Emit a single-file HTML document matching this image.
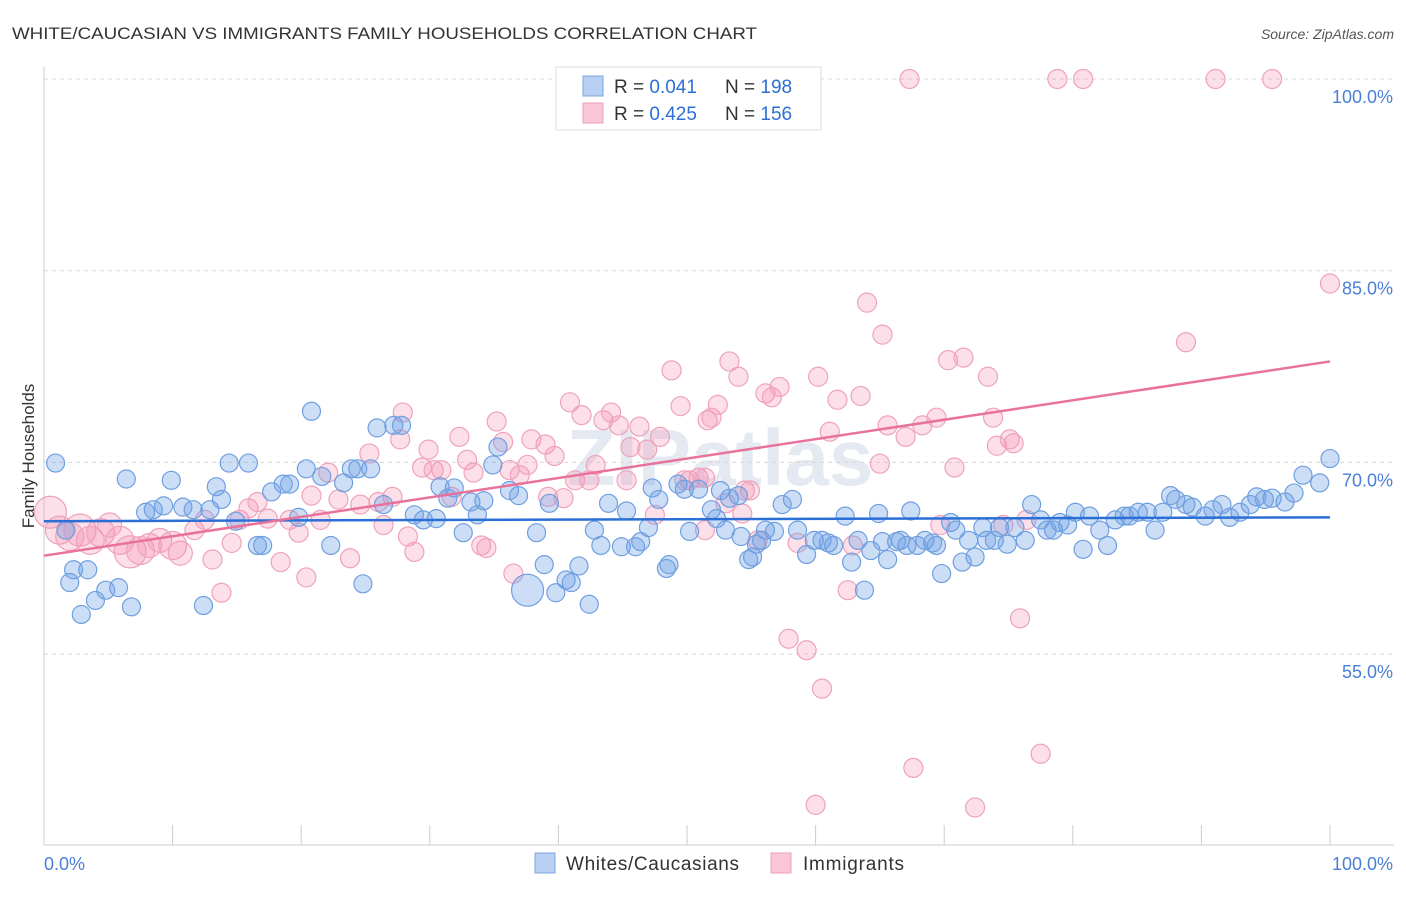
<!DOCTYPE html>
<html><head><meta charset="utf-8"><style>
body{margin:0;background:#fff;font-family:"Liberation Sans",sans-serif;}
svg text{font-family:"Liberation Sans",sans-serif;}
</style></head><body>
<svg id="chart" width="1406" height="892" viewBox="0 0 1406 892">
<text x="12" y="39" font-size="17" fill="#333" textLength="745" lengthAdjust="spacingAndGlyphs">WHITE/CAUCASIAN VS IMMIGRANTS FAMILY HOUSEHOLDS CORRELATION CHART</text>
<text x="1394" y="39" font-size="14" fill="#555" font-style="italic" text-anchor="end">Source: ZipAtlas.com</text>
<text x="720" y="485" font-size="80" fill="#e4e9f2" text-anchor="middle" font-weight="bold">ZIPatlas</text>
<g id="grid"></g>
<g id="axes"></g>
<g id="pink"></g>
<g id="blue"></g>
<g id="trends"></g>
<text transform="translate(34,456) rotate(-90)" font-size="17" fill="#333" text-anchor="middle">Family Households</text>
<g>
<rect x="556" y="67" width="265" height="63" fill="#fff" stroke="#ddd"/>
<rect x="583" y="76" width="20" height="20" fill="#b7d0f3" stroke="#7ea6e2"/>
<rect x="583" y="103" width="20" height="20" fill="#f9c6d5" stroke="#ee9fb8"/>
<text x="614" y="93" font-size="19" fill="#333">R = <tspan fill="#2b6fd6">0.041</tspan></text>
<text x="725" y="93" font-size="19" fill="#333">N = <tspan fill="#2b6fd6">198</tspan></text>
<text x="614" y="120" font-size="19" fill="#333">R = <tspan fill="#2b6fd6">0.425</tspan></text>
<text x="725" y="120" font-size="19" fill="#333">N = <tspan fill="#2b6fd6">156</tspan></text>
</g>
<g>
<rect x="535" y="853" width="20" height="20" fill="#b7d0f3" stroke="#7ea6e2"/>
<text x="566" y="870" font-size="19" fill="#333" textLength="173">Whites/Caucasians</text>
<rect x="771" y="853" width="20" height="20" fill="#f9c6d5" stroke="#ee9fb8"/>
<text x="803" y="870" font-size="19" fill="#333" textLength="101">Immigrants</text>
</g>
<text x="44" y="870" font-size="18" fill="#4a7fd8">0.0%</text>
<text x="1393" y="870" font-size="18" fill="#4a7fd8" text-anchor="end">100.0%</text>
</svg>
<script>
const yTicks=[100,85,70,55];
const yTickLabels=["100.0%","85.0%","70.0%","55.0%"];
const blueX=[0.9,1.7,2.3,2.0,3.4,4.0,2.9,4.8,5.8,6.8,6.4,7.9,8.5,9.3,9.9,10.8,11.6,12.4,12.9,13.4,13.8,14.4,14.9,15.9,16.6,17.0,17.7,18.6,19.1,19.8,20.4,20.8,21.6,22.3,23.3,23.9,24.4,24.8,25.4,25.9,26.4,27.2,27.8,28.8,29.5,30.5,30.8,31.4,31.9,32.6,33.2,33.7,34.2,34.9,35.3,36.2,36.9,37.6,38.3,38.9,39.3,39.8,40.6,41.0,41.6,42.4,42.8,43.3,43.9,44.9,45.3,46.0,46.4,47.0,47.3,47.8,48.4,48.6,49.3,49.8,50.2,50.9,51.9,52.3,52.6,53.0,53.3,54.0,54.2,54.8,55.1,55.4,55.8,56.1,56.8,57.4,58.2,58.6,59.3,59.9,60.5,61.0,61.4,62.3,62.8,63.3,63.8,64.3,64.9,65.2,65.6,66.3,66.6,67.1,67.4,67.9,68.5,69.1,69.4,69.8,70.5,70.9,71.4,71.9,72.4,73.0,73.3,73.9,74.3,74.9,75.5,76.3,76.8,77.5,78.0,78.5,79.0,79.6,80.2,80.8,81.3,82.1,82.7,83.3,84.0,84.4,85.1,85.8,86.4,87.0,87.6,88.0,88.8,89.3,90.3,90.9,91.6,92.2,93.0,93.8,94.3,94.9,95.5,96.5,97.2,97.9,99.2,100];
const blueY=[69.95,64.7,61.6,60.6,61.6,59.2,58.1,60.0,60.2,58.7,68.7,66.1,66.3,66.6,68.6,66.5,66.3,58.8,66.3,68.1,67.1,69.95,65.4,69.95,63.5,63.5,67.7,68.3,68.3,65.7,69.5,74.0,68.9,63.5,68.4,69.5,69.5,60.5,69.5,72.7,66.7,72.9,72.9,65.9,65.5,65.6,68.1,67.2,68.0,64.5,66.9,65.9,67.0,69.8,71.2,67.8,67.4,60.0,64.5,62.0,66.8,59.8,60.8,60.6,61.9,58.9,64.7,63.5,66.8,63.4,66.2,63.4,63.8,64.9,68.0,67.1,61.7,62.0,68.3,67.9,64.6,67.9,66.3,65.6,67.8,64.7,67.2,67.4,64.2,62.4,62.6,63.6,63.9,64.7,64.6,66.7,67.1,64.7,62.8,63.9,63.9,63.7,63.5,65.8,62.2,63.9,60.0,63.1,66.0,63.8,62.4,63.8,63.9,63.5,66.2,63.5,63.9,63.7,63.5,61.3,65.3,64.7,62.2,63.9,62.6,64.9,63.9,63.9,64.9,63.6,64.9,63.9,66.7,65.5,64.7,64.7,65.3,65.1,66.1,63.2,65.8,64.7,63.5,65.5,65.8,65.8,66.1,66.1,64.7,66.1,67.4,67.1,66.7,66.5,65.8,66.3,66.7,65.7,66.1,66.7,67.3,67.1,67.2,66.9,67.6,69.0,68.4,70.3];
const pinkX=[0.5,1.2,2.0,2.8,3.6,4.4,5.1,5.9,6.7,7.5,8.2,9.0,10.0,10.6,11.7,12.5,13.1,13.8,14.6,15.2,15.9,16.6,17.4,18.4,19.1,19.8,20.4,20.8,21.5,22.1,22.9,23.8,24.6,25.3,26.0,26.4,27.1,27.7,27.9,28.3,28.8,29.4,29.9,30.3,30.9,31.7,32.3,32.9,33.4,34.0,34.4,35.2,35.7,36.2,36.5,37.0,37.6,37.9,39.0,39.2,39.7,40.4,40.9,41.3,41.8,42.4,42.9,43.5,44.1,44.7,45.3,45.6,46.3,46.9,47.5,47.9,48.8,49.5,49.8,50.2,50.9,51.4,51.6,51.9,52.4,53.0,53.3,54.0,54.3,54.5,54.9,55.5,56.1,56.6,57.2,57.9,58.6,59.3,60.2,60.5,61.1,61.7,62.5,62.9,63.5,64.0,65.0,65.2,65.6,67.0,67.3,67.6,68.3,69.4,69.7,70.3,70.8,71.5,72.4,73.4,73.8,74.1,74.6,75.1,75.4,75.9,77.5,78.8,80.8,88.8,91.1,95.5,100,60.0,51.4,76.4];
const pinkY=[66.1,64.7,64.2,64.7,63.9,64.5,65.1,63.9,63.0,63.1,63.5,63.9,63.5,62.9,64.7,65.5,62.4,59.8,63.7,65.5,66.4,66.9,65.6,62.2,65.5,64.5,61.0,67.4,65.5,69.2,67.1,62.5,66.7,70.7,66.9,65.1,67.3,71.8,73.9,64.2,63.0,69.6,71.0,69.4,69.4,67.3,72.0,70.2,69.2,63.5,63.3,73.2,71.6,69.4,61.3,69.0,69.8,71.8,71.4,67.3,70.5,67.2,74.7,68.6,73.7,68.6,69.8,73.3,73.9,72.9,68.6,71.2,72.8,71.0,65.9,72.0,77.2,74.4,68.6,68.6,68.8,64.7,73.3,73.5,74.5,66.8,77.9,76.7,66.0,67.8,67.8,63.9,75.4,75.1,75.9,56.2,63.7,55.3,76.7,52.3,72.4,74.9,60.0,63.5,75.2,82.5,69.9,80.0,72.9,72.0,100,46.1,72.9,73.5,65.1,78.0,69.6,78.2,43.0,76.7,73.5,71.3,65.1,71.8,71.5,57.8,47.2,100,100,79.4,100,100,84.0,43.2,68.8,65.5];
const blueBig={57:16};
const pinkSize=[16,14,14,16,14,14,12,14,16,14,12,12,14,12];
const blueTrend=[65.4,65.7];
const pinkTrend=[62.7,77.9];

const NS="http://www.w3.org/2000/svg";
const X0=44,X1=1330,Ytop=79,PX15=191.7;
function sx(v){return X0+(X1-X0)*v/100;}
function sy(v){return Ytop+(100-v)*PX15/15;}
function mk(tag,attrs,parent){const e=document.createElementNS(NS,tag);for(const k in attrs)e.setAttribute(k,attrs[k]);parent.appendChild(e);return e;}

const grid=document.getElementById('grid');
yTicks.forEach((t,i)=>{
  const l=mk('line',{x1:X0,x2:1394,y1:sy(t),y2:sy(t),stroke:'#d8d8d8','stroke-dasharray':'4,4'},grid);
  
  
  const tx=mk('text',{x:1393,y:sy(t)+24,'font-size':18,fill:'#4a7fd8','text-anchor':'end'},grid);
  tx.textContent=yTickLabels[i];
  
  
});
const axes=document.getElementById('axes');
const ax=mk('line',{x1:X0,x2:X0,y1:67,y2:845,stroke:'#ccc'},axes);


const bx=mk('line',{x1:X0,x2:1394,y1:845,y2:845,stroke:'#ccc'},axes);


for(let i=0;i<=10;i++){
  const t=mk('line',{x1:sx(i*10),x2:sx(i*10),y1:825,y2:845,stroke:'#ccc'},axes);
  
  
}
const pg=document.getElementById('pink');
pinkX.forEach((x,i)=>{
  const r=pinkSize[i]||9.5;
  const c=mk('circle',{cx:sx(x),cy:sy(pinkY[i]),r:r,fill:'rgba(244,150,180,0.3)',stroke:'#eea3bb','stroke-width':1.2},pg);
  
  
});
const bg=document.getElementById('blue');
blueX.forEach((x,i)=>{
  const r=blueBig[i]||9;
  const c=mk('circle',{cx:sx(x),cy:sy(blueY[i]),r:r,fill:'rgba(110,160,230,0.35)',stroke:'#6f9fe0','stroke-width':1.2},bg);
  
  
});
const tg=document.getElementById('trends');
const tb=mk('line',{x1:sx(0),x2:sx(100),y1:sy(blueTrend[0]),y2:sy(blueTrend[1]),stroke:'#2b6fd6','stroke-width':2.5},tg);


const tp=mk('line',{x1:sx(0),x2:sx(100),y1:sy(pinkTrend[0]),y2:sy(pinkTrend[1]),stroke:'#e8729a','stroke-width':2.5},tg);


</script>
</body></html>
